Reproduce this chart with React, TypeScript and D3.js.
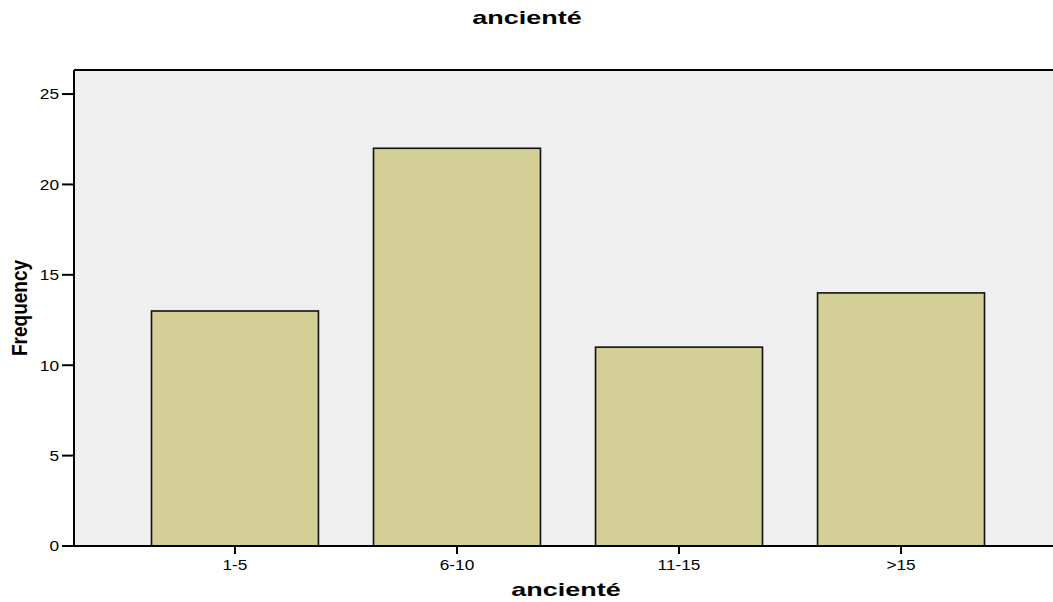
import React from "react";
import * as d3 from "d3";

const categories = ["1-5", "6-10", "11-15", ">15"];
const frequencies = [13, 22, 11, 14];
const yTicks = [0, 5, 10, 15, 20, 25];
const title = "ancienté";
const xTitle = "ancienté";
const yTitle = "Frequency";

export default function App() {
  const W = 1053, H = 602;
  const left = 74, top = 70, bottom = 546, right = 1062;
  const y = d3.scaleLinear().domain([0, 26.33]).range([bottom, top]);
  const x = d3.scaleBand<string>().domain(categories).range([left, right]).paddingInner(0.248).paddingOuter(0.349);
  const font = "'Liberation Sans', Arial, sans-serif";
  const tickSx = 1.15;
  const titleSx = 1.42;
  return (
    <svg width={W} height={H} style={{ position: "fixed", left: 0, top: 0 }} fontFamily={font}>
      <rect x={0} y={0} width={W} height={H} fill="#ffffff" />
      <rect x={left} y={top} width={right - left} height={bottom - top} fill="#efefef" />
      <line x1={left} x2={W} y1={top} y2={top} stroke="#000" strokeWidth={2} />
      {categories.map((c, i) => (
        <rect key={c} x={x(c)!} y={y(frequencies[i])} width={x.bandwidth()} height={bottom - y(frequencies[i])}
          fill="#d3cf96" stroke="#111" strokeWidth={1.6} />
      ))}
      <line x1={left} x2={left} y1={top} y2={bottom} stroke="#000" strokeWidth={2} />
      <line x1={left} x2={W} y1={bottom} y2={bottom} stroke="#000" strokeWidth={2} />
      {yTicks.map(t => (
        <g key={t}>
          <line x1={left - 12} x2={left} y1={y(t)} y2={y(t)} stroke="#000" strokeWidth={2} />
          <text transform={`translate(${left - 15},${y(t)}) scale(${tickSx},1)`} dy="0.36em" textAnchor="end" fontSize={15}>{t}</text>
        </g>
      ))}
      {categories.map(c => {
        const cx = x(c)! + x.bandwidth() / 2;
        return (
          <g key={c}>
            <line x1={cx} x2={cx} y1={bottom} y2={bottom + 8} stroke="#000" strokeWidth={2} />
            <text transform={`translate(${cx},570) scale(${tickSx},1)`} textAnchor="middle" fontSize={15}>{c}</text>
          </g>
        );
      })}
      <text transform={`translate(527,24) scale(${titleSx},1)`} textAnchor="middle" fontSize={19} fontWeight="bold">{title}</text>
      <text transform={`translate(566,596) scale(${titleSx},1)`} textAnchor="middle" fontSize={19} fontWeight="bold">{xTitle}</text>
      <text transform={`translate(27,308) scale(1.15,1) rotate(-90)`} textAnchor="middle" fontSize={19} fontWeight="bold">{yTitle}</text>
    </svg>
  );
}
